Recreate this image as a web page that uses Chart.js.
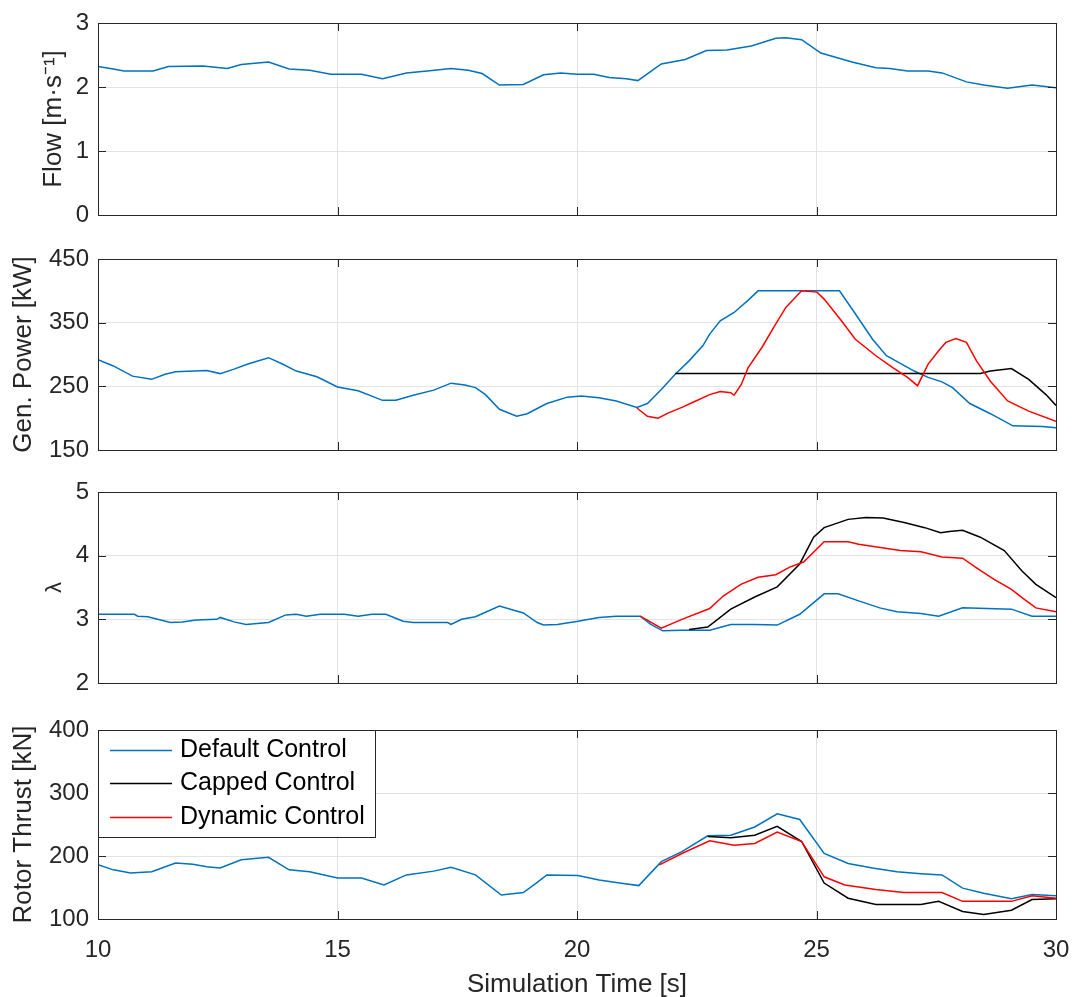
<!DOCTYPE html>
<html>
<head>
<meta charset="utf-8">
<title>Turbine control comparison</title>
<script src="https://cdn.jsdelivr.net/npm/chart.js@4.4.0/dist/chart.umd.min.js"></script>
<style>
  html, body { margin: 0; padding: 0; background: #fff; }
  #wrap { position: relative; width: 1072px; height: 997px; overflow: hidden; }
  #wrap canvas { position: absolute; left: 0; }
</style>
</head>
<body>
<div id="wrap">
  <canvas id="flowChart"></canvas>
  <canvas id="powerChart"></canvas>
  <canvas id="lambdaChart"></canvas>
  <canvas id="thrustChart"></canvas>
</div>
<script>
// ---- data: [time (s), value] ----
const flowDefault = [[10.0,2.32],[10.32,2.28],[10.54,2.25],[11.15,2.25],[11.47,2.32],[12.19,2.33],[12.70,2.29],[12.99,2.35],[13.56,2.39],[13.99,2.28],[14.42,2.26],[14.86,2.20],[15.50,2.20],[15.94,2.13],[16.44,2.22],[16.87,2.25],[17.37,2.29],[17.73,2.26],[18.02,2.21],[18.38,2.03],[18.88,2.04],[19.30,2.19],[19.66,2.22],[20.0,2.20],[20.35,2.20],[20.67,2.15],[21.03,2.13],[21.27,2.10],[21.76,2.36],[22.26,2.43],[22.70,2.57],[23.13,2.58],[23.64,2.64],[24.15,2.76],[24.36,2.77],[24.69,2.74],[25.09,2.53],[25.38,2.47],[25.74,2.39],[26.24,2.30],[26.53,2.29],[26.90,2.25],[27.33,2.25],[27.62,2.22],[28.13,2.08],[28.49,2.03],[28.99,1.98],[29.50,2.03],[30.0,1.99]];

const powerDefault = [[10.0,292],[10.32,282],[10.72,266],[11.12,261],[11.40,269],[11.62,273],[12.27,275],[12.55,270],[12.84,277],[13.13,285],[13.56,295],[13.85,285],[14.14,274],[14.57,265],[15.0,249],[15.43,243],[15.94,228],[16.22,228],[16.58,236],[17.01,244],[17.37,255],[17.66,252],[17.88,248],[18.09,237],[18.38,214],[18.74,203],[18.96,207],[19.37,223],[19.80,233],[20.09,235],[20.46,232],[20.82,227],[21.25,217],[21.47,223],[21.76,245],[22.05,269],[22.34,290],[22.63,314],[22.77,332],[22.99,353],[23.28,366],[23.57,385],[23.78,400],[25.48,400],[25.81,364],[26.17,324],[26.46,298],[26.75,286],[27.04,274],[27.33,264],[27.62,257],[27.84,248],[28.20,223],[28.63,207],[29.10,188],[29.72,187],[30.0,185]];
const powerCapped = [[22.05,270],[28.42,270],[28.63,274],[29.07,278],[29.43,261],[29.79,237],[30.0,220]];
const powerDynamic = [[21.25,216],[21.47,203],[21.69,200],[21.90,208],[22.19,217],[22.48,227],[22.77,237],[22.99,242],[23.21,240],[23.28,236],[23.43,253],[23.57,279],[23.86,311],[24.15,348],[24.36,374],[24.69,400],[25.01,398],[25.16,387],[25.52,353],[25.81,324],[26.24,298],[26.60,279],[26.90,264],[27.11,251],[27.33,285],[27.55,306],[27.70,319],[27.91,325],[28.13,319],[28.34,290],[28.63,258],[28.99,227],[29.43,211],[30.0,195]];

const lambdaDefault = [[10.0,3.08],[10.76,3.08],[10.83,3.05],[11.04,3.04],[11.51,2.95],[11.76,2.96],[12.05,2.99],[12.48,3.0],[12.55,3.03],[12.84,2.96],[13.09,2.92],[13.56,2.95],[13.92,3.07],[14.14,3.08],[14.35,3.05],[14.64,3.08],[15.14,3.08],[15.43,3.05],[15.72,3.08],[16.01,3.08],[16.37,2.97],[16.58,2.95],[17.30,2.95],[17.37,2.92],[17.59,3.0],[17.88,3.04],[18.38,3.21],[18.88,3.10],[19.17,2.95],[19.30,2.91],[19.59,2.92],[20.02,2.97],[20.46,3.03],[20.82,3.05],[21.32,3.05],[21.54,2.92],[21.79,2.82],[22.19,2.83],[22.77,2.83],[23.21,2.92],[23.71,2.92],[24.18,2.91],[24.65,3.08],[25.16,3.40],[25.45,3.40],[25.88,3.29],[26.32,3.18],[26.68,3.12],[27.18,3.09],[27.55,3.05],[28.05,3.18],[28.56,3.17],[29.07,3.16],[29.50,3.05],[30.0,3.05]];
const lambdaCapped = [[22.34,2.84],[22.73,2.88],[23.21,3.16],[23.71,3.35],[24.18,3.51],[24.65,3.87],[24.94,4.29],[25.16,4.44],[25.66,4.57],[26.03,4.60],[26.39,4.59],[26.83,4.52],[27.26,4.44],[27.59,4.36],[27.77,4.38],[28.05,4.40],[28.42,4.29],[28.92,4.08],[29.29,3.76],[29.58,3.55],[30.0,3.34]];
const lambdaDynamic = [[21.32,3.05],[21.76,2.86],[22.19,3.0],[22.77,3.17],[23.06,3.37],[23.42,3.55],[23.78,3.66],[24.15,3.70],[24.44,3.82],[24.73,3.90],[25.16,4.22],[25.66,4.22],[25.88,4.18],[26.75,4.08],[27.18,4.06],[27.62,3.98],[28.05,3.96],[28.34,3.81],[28.70,3.63],[29.07,3.47],[29.29,3.34],[29.58,3.18],[30.0,3.12]];

const thrustDefault = [[10.0,186],[10.32,178],[10.68,173],[11.12,175],[11.62,189],[11.98,187],[12.27,183],[12.55,181],[12.99,194],[13.56,198],[13.99,178],[14.42,175],[15.0,165],[15.50,165],[15.97,154],[16.44,170],[17.01,176],[17.37,182],[17.88,170],[18.42,138],[18.88,142],[19.17,158],[19.37,170],[20.02,169],[20.46,162],[20.89,157],[21.29,153],[21.76,191],[22.19,207],[22.73,232],[23.21,233],[23.71,246],[24.18,267],[24.65,258],[25.16,204],[25.66,188],[26.17,181],[26.68,175],[27.18,172],[27.62,170],[28.05,149],[28.49,141],[29.07,132],[29.50,139],[30.0,137]];
const thrustCapped = [[22.73,231],[23.21,229],[23.71,233],[24.18,247],[24.69,223],[25.16,157],[25.66,133],[26.24,123],[27.18,123],[27.55,128],[28.05,112],[28.49,107],[29.07,114],[29.50,131],[30.0,132]];
const thrustDynamic = [[21.72,186],[22.19,204],[22.77,224],[23.28,217],[23.71,220],[24.18,238],[24.69,223],[25.16,167],[25.59,154],[26.24,147],[26.82,142],[27.62,142],[28.05,128],[29.07,128],[29.50,137],[30.0,133]];

const seriesNames = ['Default Control', 'Capped Control', 'Dynamic Control'];
const seriesColors = ['#0072BD', '#000000', '#FF0000'];
const timeTicks = [10, 15, 20, 25, 30];

// ---- look ----
const FONT = "'Liberation Sans', Arial, Helvetica, sans-serif";
const TEXT = '#262626';
const GRID = '#e3e3e3';
const PLOT_LEFT = 98, PLOT_RIGHT = 1056, PAGE_W = 1072, PAGE_H = 997;

// box, inward tick marks and (optionally) the legend, MATLAB style
const matlabAxes = {
    id: 'matlabAxes',
    afterDraw(chart, args, opts) {
        const { ctx, chartArea: a, scales: { x, y } } = chart;
        ctx.save();
        ctx.strokeStyle = TEXT;
        ctx.lineWidth = 1;
        ctx.beginPath();
        x.ticks.forEach(t => {
            const px = Math.round(x.getPixelForValue(t.value)) + 0.5;
            ctx.moveTo(px, a.bottom); ctx.lineTo(px, a.bottom - 8);
            ctx.moveTo(px, a.top); ctx.lineTo(px, a.top + 8);
        });
        y.ticks.forEach(t => {
            const py = Math.round(y.getPixelForValue(t.value)) + 0.5;
            ctx.moveTo(a.left, py); ctx.lineTo(a.left + 8, py);
            ctx.moveTo(a.right, py); ctx.lineTo(a.right - 8, py);
        });
        ctx.stroke();
        ctx.strokeRect(Math.round(a.left) + 0.5, Math.round(a.top) + 0.5,
            Math.round(a.right - a.left), Math.round(a.bottom - a.top));

        if (opts.legend) {
            const lx = Math.round(a.left), ly = Math.round(a.top), lw = 277, lh = 107;
            ctx.fillStyle = '#fff';
            ctx.fillRect(lx, ly, lw, lh);
            ctx.strokeRect(lx + 0.5, ly + 0.5, lw, lh);
            ctx.font = '25px ' + FONT;
            ctx.textBaseline = 'middle';
            chart.data.datasets.forEach((ds, i) => {
                const cy = Math.round(ly + 20 + i * 33.3) + 0.5;
                ctx.strokeStyle = ds.borderColor;
                ctx.lineWidth = 1.5;
                ctx.beginPath();
                ctx.moveTo(lx + 12, cy); ctx.lineTo(lx + 74, cy);
                ctx.stroke();
                ctx.fillStyle = '#000';
                ctx.fillText(ds.label, lx + 82, cy);
            });
        }
        ctx.restore();
    }
};

function toPoints(arr) {
    return arr.map(p => ({ x: p[0], y: p[1] }));
}

function makePanel(id, cfg) {
    const canvas = document.getElementById(id);
    const canvasTop = cfg.top - 23;
    const bottomRoom = cfg.last ? PAGE_H - cfg.bottom : 20;
    canvas.width = PAGE_W;
    canvas.height = cfg.bottom - canvasTop + bottomRoom;
    canvas.style.top = canvasTop + 'px';

    const datasets = cfg.series.map((s, i) => s && ({
        label: seriesNames[i],
        data: toPoints(s),
        borderColor: seriesColors[i],
        borderWidth: 1.5,
        pointRadius: 0,
        tension: 0,
        fill: false,
        order: 2 - i
    })).filter(Boolean);

    return new Chart(canvas.getContext('2d'), {
        type: 'line',
        data: { datasets },
        plugins: [matlabAxes],
        options: {
            responsive: false,
            animation: false,
            events: [],
            layout: { padding: { left: cfg.labelPad, right: PAGE_W - PLOT_RIGHT, top: 23, bottom: cfg.last ? 0 : 20 } },
            plugins: {
                legend: { display: false },
                tooltip: { enabled: false },
                matlabAxes: { legend: !!cfg.legend }
            },
            scales: {
                x: {
                    type: 'linear', min: 10, max: 30,
                    afterBuildTicks: s => { s.ticks = timeTicks.map(v => ({ value: v })); },
                    ticks: { display: !!cfg.last, font: { family: FONT, size: 24 }, color: TEXT, padding: 17, maxRotation: 0 },
                    grid: { color: GRID, drawTicks: false },
                    border: { display: false },
                    title: { display: !!cfg.last, text: 'Simulation Time [s]', color: TEXT,
                             font: { family: FONT, size: 26 }, padding: { top: 0, bottom: -3 } },
                    afterFit: s => {
                        s.height = cfg.last ? PAGE_H - cfg.bottom : 0;
                        s.paddingLeft = 0; s.paddingRight = 0;
                    }
                },
                y: {
                    min: cfg.yTicks[0], max: cfg.yTicks[cfg.yTicks.length - 1],
                    afterBuildTicks: s => { s.ticks = cfg.yTicks.map(v => ({ value: v })); },
                    ticks: { font: { family: FONT, size: 24 }, color: TEXT, padding: 9 },
                    grid: { color: GRID, drawTicks: false },
                    border: { display: false },
                    title: { display: true, text: cfg.label, color: TEXT,
                             font: { family: FONT, size: cfg.labelSize || 26 }, padding: { top: 4, bottom: 4 } },
                    afterFit: s => {
                        s.width = PLOT_LEFT - cfg.labelPad;
                        s.paddingTop = 0; s.paddingBottom = 0;
                    }
                }
            }
        }
    });
}

makePanel('flowChart', {
    top: 23, bottom: 215, labelPad: 34,
    label: 'Flow [m\u00B7s\u207B\u00B9]', yTicks: [0, 1, 2, 3],
    series: [flowDefault]
});
makePanel('powerChart', {
    top: 259, bottom: 450, labelPad: 4,
    label: 'Gen. Power [kW]', yTicks: [150, 250, 350, 450],
    series: [powerDefault, powerCapped, powerDynamic]
});
makePanel('lambdaChart', {
    top: 492, bottom: 683, labelPad: 38, labelSize: 22,
    label: '\u03BB', yTicks: [2, 3, 4, 5],
    series: [lambdaDefault, lambdaCapped, lambdaDynamic]
});
makePanel('thrustChart', {
    top: 730, bottom: 919, labelPad: 4, last: true, legend: true,
    label: 'Rotor Thrust [kN]', yTicks: [100, 200, 300, 400],
    series: [thrustDefault, thrustCapped, thrustDynamic]
});
</script>
</body>
</html>
